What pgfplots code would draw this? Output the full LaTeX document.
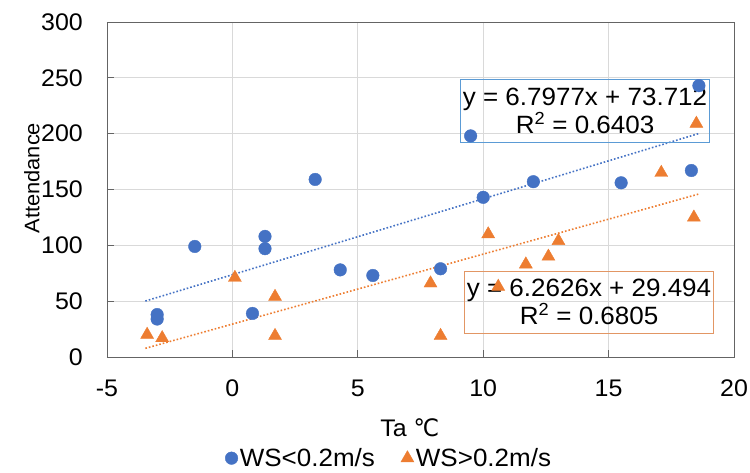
\documentclass[border=0pt]{standalone}
\usepackage{fontspec}
\setmainfont{Liberation Sans}[FakeStretch=1.04]
\newfontfamily\dejavu{DejaVu Sans}[FakeStretch=0.95]
\usepackage{pgfplots}
\pgfplotsset{compat=1.18}
\definecolor{cblue}{RGB}{68,114,196}
\definecolor{corange}{RGB}{237,125,49}
\definecolor{bblue}{RGB}{91,155,213}
\definecolor{borange}{RGB}{226,150,100}
\definecolor{gridc}{RGB}{217,217,217}
\definecolor{axc}{RGB}{100,100,100}
\begin{document}
\begin{tikzpicture}
\path[use as bounding box] (-107pt,-116pt) rectangle (643pt,357pt);
\begin{axis}[
  scale only axis, width=627pt, height=335pt,
  xmin=-5, xmax=20, ymin=0, ymax=300,
  xtick={-5,0,5,10,15,20}, ytick={0,50,...,300},
  grid=major, major grid style={gridc, line width=0.8pt},
  axis line style={axc, line width=0.9pt},
  tick style={axc, line width=0.9pt, major tick length=7pt},
  tick align=inside, xtick pos=bottom, ytick pos=left,
  /pgf/number format/assume math mode=true,
  ticklabel style={font=\fontsize{24}{28}\selectfont, inner sep=0pt},
  xticklabel style={anchor=center, yshift=-31pt},
  yticklabel style={anchor=east, xshift=-24pt},
  xlabel={Ta {\dejavu ℃}},
  ylabel={Attendance},
  xlabel style={font=\fontsize{24}{28}\selectfont, at={(axis description cs:0.483,-0.212)}, anchor=center, inner sep=0pt},
  ylabel style={font=\fontsize{21}{25}\selectfont, at={(axis description cs:-0.12,0.534)}, anchor=center, inner sep=0pt},
  legend style={at={(axis description cs:0.45,-0.302)}, anchor=center, draw=none,
    font=\fontsize{25}{29}\selectfont, legend columns=2,
    nodes={inner sep=2pt},
    /tikz/every even column/.append style={column sep=24pt}},
  legend cell align=left,
]
\addplot[only marks, mark=*, mark size=6.3pt, color=cblue, mark options={fill=cblue, draw=cblue}]
coordinates {
(-3.0,38) (-3.0,34) (-1.5,99) (1.3,108) (1.3,97) (0.8,39) (3.3,159) (4.3,78) (5.6,73)
(18.6,243) (9.5,198) (12.0,157) (10.0,143) (15.5,156) (18.3,167) (8.3,79)
};
\addlegendentry{WS<0.2m/s}
\addplot[only marks, mark=triangle*, mark size=7.5pt, color=corange, mark options={fill=corange, draw=corange}]
coordinates {
(-3.4,20) (-2.8,17) (0.1,71) (1.7,54) (1.7,19)
(18.5,209) (17.1,165) (18.4,125) (10.2,110) (13.0,104) (12.6,90) (11.7,83) (7.9,66) (10.6,63) (8.3,19)
};
\addlegendentry{WS>0.2m/s}
\addplot[cblue, dotted, line width=1.6pt, forget plot] coordinates {(-3.47,50.12) (18.6,200.15)};
\addplot[corange, dotted, line width=1.6pt, forget plot] coordinates {(-3.47,7.76) (18.6,145.98)};
\node[draw=bblue, line width=1pt, align=center, font=\fontsize{25}{28}\selectfont, inner sep=2pt, minimum width=249pt, minimum height=63pt]
  at (axis cs:14.06,220) {y = 6.7977x + 73.712\\R\textsuperscript{2} = 0.6403};
\node[draw=borange, line width=1pt, align=center, font=\fontsize{25}{28}\selectfont, inner sep=2pt, minimum width=249pt, minimum height=62pt]
  at (axis cs:14.22,49.2) {y = 6.2626x + 29.494\\R\textsuperscript{2} = 0.6805};
\end{axis}
\end{tikzpicture}
\end{document}
